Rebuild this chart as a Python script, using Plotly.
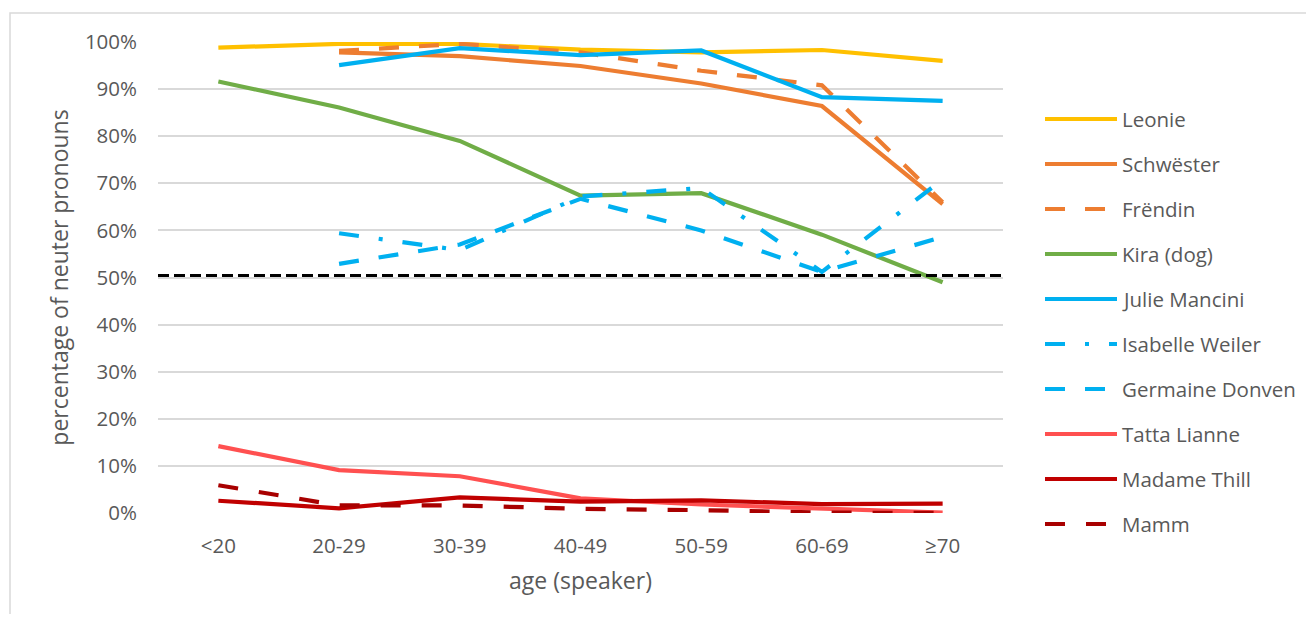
import plotly.graph_objects as go

ages = ["<20", "20-29", "30-39", "40-49", "50-59", "60-69", "≥70"]

leonie = [98.8, 99.6, 99.6, 98.4, 97.8, 98.3, 96.0]
schwester = [None, 97.8, 97.0, 94.9, 91.2, 86.4, 65.6]
frendin = [None, 98.1, 99.6, 97.8, 93.9, 90.8, 66.0]
kira = [91.6, 86.1, 79.0, 67.4, 67.9, 59.1, 49.0]
julie = [None, 95.1, 98.7, 97.2, 98.2, 88.3, 87.5]
isabelle = [None, 59.4, 55.8, 67.2, 69.0, 51.2, 70.8]
germaine = [None, 52.9, 57.0, 66.7, 60.0, 51.2, 58.6]
tatta = [14.2, 9.1, 7.8, 3.1, 1.8, 0.9, 0.1]
thill = [2.6, 1.0, 3.3, 2.4, 2.7, 1.9, 2.0]
mamm = [5.9, 1.6, 1.6, 0.9, 0.6, 0.1, 0.0]

threshold = 50.4

names = ["Leonie", "Schwëster", "Frëndin", "Kira (dog)", "Julie Mancini",
         "Isabelle Weiler", "Germaine Donven", "Tatta Lianne", "Madame Thill", "Mamm"]
values = [leonie, schwester, frendin, kira, julie, isabelle, germaine, tatta, thill, mamm]
colors = ["#FFC000", "#ED7D31", "#ED7D31", "#70AD47", "#00B0F0",
          "#00B0F0", "#00B0F0", "#FF5050", "#C00000", "#A80000"]
dashes = ["solid", "solid", "20px,20px", "solid", "solid",
          "20px,20px,4px,20px", "20px,20px", "solid", "solid", "20px,21px"]

FONT = "Open Sans"
GREY = "#595959"

# page offset of 8px (body margin)
OFF = 8
FIG_W, FIG_H = 1298, 606
L, R, T, B = 158, 1003, 42, 513        # plot area in page pixels
W, H = R - L, B - T


def px_x(px):
    return (px - L) / W


def px_y(py):
    return (B - py) / H


fig = go.Figure()
for name, vals, color, dash in zip(names, values, colors, dashes):
    fig.add_trace(go.Scatter(
        x=ages, y=vals, name=name, mode="lines",
        line=dict(color=color, width=4.2, dash=dash),
        showlegend=False,
    ))

fig.add_shape(type="line", xref="paper", yref="y", x0=0, x1=1,
              y0=threshold, y1=threshold,
              line=dict(color="black", width=3, dash="11px,5px"))

# chart border
fig.add_shape(type="rect", xref="paper", yref="paper",
              x0=px_x(10), x1=px_x(1340),
              y0=px_y(13), y1=px_y(660),
              line=dict(color="#D9D9D9", width=1.5), layer="below")

# legend (drawn manually for the long line samples)
for i, (name, color, dash) in enumerate(zip(names, colors, dashes)):
    yy = px_y(119 + 45 * i)
    fig.add_shape(type="line", xref="paper", yref="paper",
                  x0=px_x(1045), x1=px_x(1117), y0=yy, y1=yy,
                  line=dict(color=color, width=4.2, dash=dash))
    fig.add_annotation(xref="paper", yref="paper", x=px_x(1120), y=yy,
                       text=name, showarrow=False, xanchor="left", yanchor="middle",
                       font=dict(size=20.5, color=GREY, family=FONT))

fig.update_layout(
    width=FIG_W, height=FIG_H,
    margin=dict(l=L - OFF, r=FIG_W - (R - OFF), t=T - OFF, b=FIG_H - (B - OFF)),
    paper_bgcolor="white", plot_bgcolor="white",
    font=dict(family=FONT, color=GREY, size=20.5),
    showlegend=False,
    xaxis=dict(
        type="category", range=[-0.5, 6.5],
        showgrid=False, zeroline=False, showline=False,
        ticks="", tickfont=dict(size=20.5, color=GREY),
        ticklabelstandoff=18,
        title=dict(text="age (speaker)", font=dict(size=23, color=GREY), standoff=15),
    ),
    yaxis=dict(
        range=[0, 100], dtick=10, ticksuffix="%",
        showgrid=True, gridcolor="#D9D9D9", gridwidth=1.5,
        zeroline=False, showline=False, ticks="",
        tickfont=dict(size=20.5, color=GREY),
        ticklabelstandoff=20,
        title=dict(text="percentage of neuter pronouns", font=dict(size=23, color=GREY), standoff=9),
    ),
)

fig.write_html("out.html")
